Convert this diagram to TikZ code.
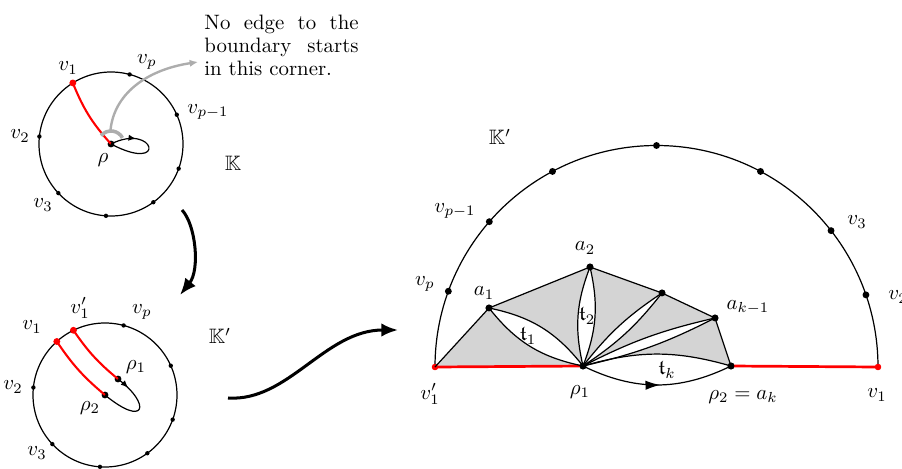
\documentclass[tikz,border=0pt]{standalone}
\usepackage{amssymb}
\usetikzlibrary{arrows.meta,decorations.markings}
\begin{document}
\begin{tikzpicture}[x=0.48pt,y=0.48pt,
  thinline/.style={line width=0.58pt},
  sdot/.style={circle,fill=black,inner sep=0pt,minimum size=2.1pt},
  bdot/.style={circle,fill=black,inner sep=0pt,minimum size=3.3pt},
  rdot/.style={circle,fill=red,inner sep=0pt,minimum size=3.3pt},
  rrdot/.style={circle,fill=red,inner sep=0pt,minimum size=3pt},
  lbl/.style={inner sep=0pt},
  rededge/.style={red,line width=1pt},
  redbase/.style={red,line width=1.3pt},
  bigarrow/.style={line width=1.45pt,-{Latex[length=8pt,width=6.5pt]}},
  cornerarc/.style={black!32,line width=1.7pt},
  grayarrow/.style={black!32,line width=1.15pt,-{Latex[length=4pt,width=3.5pt]}},
  shadefill/.style={fill=black!17},
  midarrow/.style={postaction={decorate},decoration={markings,mark=at position #1 with {\arrow{Latex[length=3.5pt,width=3pt]}}}},
  bigmidarrow/.style={postaction={decorate},decoration={markings,mark=at position #1 with {\arrow{Latex[length=7pt,width=4.5pt]}}}}
]
\useasboundingbox (0,0) rectangle (902,-468);

% ---------- circle K ----------
\coordinate (C1) at (111,-144);
\draw[thinline] (C1) circle (72);
\foreach \a/\n in {75/p,24/pm,-20/x1,-54/x2,-94/x3,-137/v3,174/v2}
  \node[sdot] (k\n) at ([shift={(\a:72)}]C1) {};
\node[rdot] (kv1) at ([shift={(122:72)}]C1) {};
\node[bdot] (krho) at (C1) {};
\draw[rededge] (kv1.center) to[bend right=10] (krho.center);
\draw[thinline,midarrow=0.3] (krho.center) .. controls (155,-122) and (168,-174) .. (krho.center);
\draw[cornerarc] ([shift={(140:13)}]C1) arc (140:28:13);
\coordinate (garc) at ([shift={(92:14)}]C1);
\node[anchor=north west,inner sep=0pt,text width=74pt,align=justify,
  font=\fontsize{10}{11}\selectfont] (note) at (204,-15) {No edge to the boundary starts in this corner.};
\coordinate (gtip) at (198,-62);
\draw[grayarrow] (garc) .. controls (114,-95) and (145,-70) .. (gtip);
\node[lbl] at (68,-68) {$v_1$};
\node[lbl] at (147,-62) {$v_p$};
\node[lbl] at (208,-112) {$v_{p-1}$};
\node[lbl] at (20,-136) {$v_2$};
\node[lbl] at (43,-205) {$v_3$};
\node[lbl] at (103,-160) {$\rho$};
\node[lbl] at (233,-163) {$\mathbb{K}$};

% ---------- arrows between ----------
\coordinate (ba1s) at (182,-210);
\coordinate (ba1e) at (180,-295);
\draw[bigarrow] (ba1s) .. controls (196,-225) and (200,-270) .. (ba1e);
\coordinate (ba2s) at (228,-398);
\coordinate (ba2e) at (398,-330);
\draw[bigarrow] (ba2s) .. controls (288,-402) and (325,-330) .. (ba2e);

% ---------- circle K' ----------
\coordinate (C2) at (105,-395);
\draw[thinline] (C2) circle (72);
\foreach \a/\n in {75/p,24/pm,-20/x1,-54/x2,-94/x3,-137/v3,174/v2}
  \node[sdot] (m\n) at ([shift={(\a:72)}]C2) {};
\node[rdot] (mv1p) at ([shift={(116:72)}]C2) {};
\node[rdot] (mv1) at ([shift={(132:72)}]C2) {};
\node[bdot] (mrho1) at (118,-379) {};
\node[bdot] (mrho2) at (C2) {};
\draw[rededge] (mv1p.center) to[bend right=8] (mrho1.center);
\draw[rededge] (mv1.center) to[bend right=8] (mrho2.center);
\draw[thinline,midarrow=0.17] (mrho1.center) .. controls (152,-405) and (145,-428) .. (mrho2.center);
\node[lbl] at (32,-327) {$v_1$};
\node[lbl] at (80,-308) {$v_1'$};
\node[lbl] at (142,-312) {$v_p$};
\node[lbl] at (136,-367) {$\rho_1$};
\node[lbl] at (90,-408) {$\rho_2$};
\node[lbl] at (13,-387) {$v_2$};
\node[lbl] at (37,-453) {$v_3$};
\node[lbl] at (220,-336) {$\mathbb{K}'$};

% ---------- half disc ----------
\coordinate (C3) at (656.5,-367);
\node[rrdot] (rv1p) at ([shift={(180:221.5)}]C3) {};
\node[rrdot] (rv1) at ([shift={(0:221.5)}]C3) {};
\node[bdot] (rrho1) at (583,-366) {};
\node[bdot] (ra1) at (489,-308) {};
\node[bdot] (ra2) at (590,-267) {};
\node[bdot] (ra3) at (662,-293) {};
\node[bdot] (rak1) at (715,-318) {};
\node[bdot] (rak) at (731,-366) {};

\fill[shadefill] (rv1p.center) -- (ra1.center) -- (ra2.center) -- (ra3.center) -- (rak1.center) -- (rak.center) to[bend right=16] (rrho1.center) -- cycle;
\fill[white] (ra1.center) to[bend left=20] (rrho1.center) to[bend left=20] (ra1.center);
\fill[white] (ra2.center) to[bend left=17] (rrho1.center) to[bend left=17] (ra2.center);
\fill[white] (ra3.center) to[bend left=9] (rrho1.center) to[bend left=9] (ra3.center);
\fill[white] (rak1.center) to[bend left=7] (rrho1.center) to[bend left=7] (rak1.center);

\draw[thinline] (rv1p.center) arc (180:0:221.5);
\foreach \a/\n in {160/p,139/pm,118/u1,90/u2,62/u3,38/v3,19/v2}
  \node[bdot] (r\n) at ([shift={(\a:221.5)}]C3) {};
\draw[redbase] (rv1p.center) -- (rrho1.center);
\draw[redbase] (rak.center) -- (rv1.center);
\node[rrdot] at (rv1p) {};
\node[rrdot] at (rv1) {};

\draw[thinline] (rv1p.center) -- (ra1.center) -- (ra2.center) -- (ra3.center) -- (rak1.center) -- (rak.center);
\draw[thinline] (ra1.center) to[bend left=20] (rrho1.center);
\draw[thinline] (ra1.center) to[bend right=20] (rrho1.center);
\draw[thinline] (ra2.center) to[bend left=17] (rrho1.center);
\draw[thinline] (ra2.center) to[bend right=17] (rrho1.center);
\draw[thinline] (ra3.center) to[bend left=9] (rrho1.center);
\draw[thinline] (ra3.center) to[bend right=9] (rrho1.center);
\draw[thinline] (rak1.center) to[bend left=7] (rrho1.center);
\draw[thinline] (rak1.center) to[bend right=7] (rrho1.center);
\draw[thinline] (rrho1.center) to[bend left=16] (rak.center);
\draw[thinline,bigmidarrow=0.52] (rrho1.center) to[bend right=26] (rak.center);
\foreach \n in {rrho1,ra1,ra2,ra3,rak1,rak} \node[bdot] at (\n) {};

\node[lbl] at (500,-137) {$\mathbb{K}'$};
\node[lbl] at (455,-211) {$v_{p-1}$};
\node[lbl] at (425,-284) {$v_p$};
\node[lbl] at (857,-222) {$v_3$};
\node[lbl] at (898,-297) {$v_2$};
\node[lbl] at (430,-394) {$v_1'$};
\node[lbl] at (877,-395) {$v_1$};
\node[lbl] at (580,-392) {$\rho_1$};
\node[lbl] at (743,-397) {$\rho_2=a_k$};
\node[lbl] at (484,-293) {$a_1$};
\node[lbl] at (585,-248) {$a_2$};
\node[lbl] at (748,-307) {$a_{k-1}$};
\node[lbl] at (528,-336) {$\mathfrak{t}_1$};
\node[lbl] at (587,-316) {$\mathfrak{t}_2$};
\node[lbl] at (667,-370) {$\mathfrak{t}_k$};
\end{tikzpicture}
\end{document}
